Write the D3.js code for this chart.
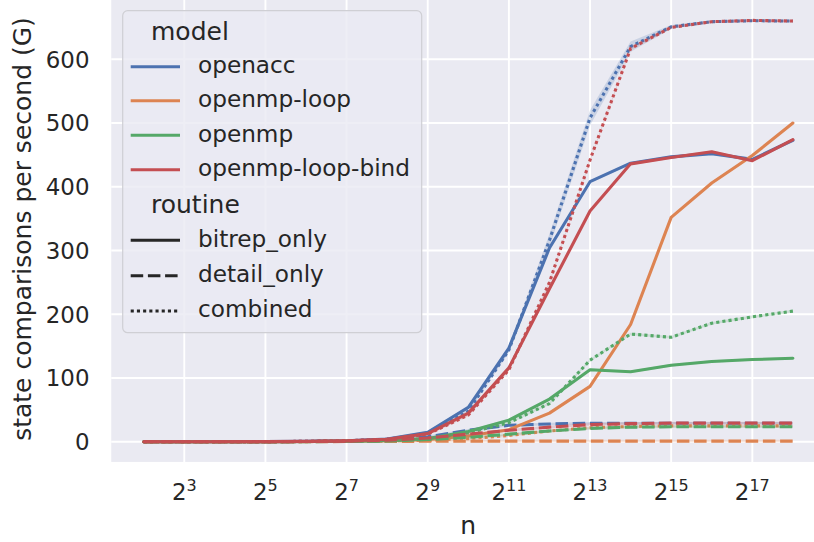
<!DOCTYPE html>
<html>
<head>
<meta charset="utf-8">
<script src="https://cdn.jsdelivr.net/npm/d3@7"></script>
<style>
  body { margin: 0; background: #fff; }
  text { font-family: "DejaVu Sans", sans-serif; fill: #262626; }
</style>
</head>
<body>
<div class="chart"></div>
<script>
// n values (2^2 .. 2^18)
var nValues = [4, 8, 16, 32, 64, 128, 256, 512, 1024, 2048, 4096, 8192, 16384, 32768, 65536, 131072, 262144];
var xTickPowers = [3, 5, 7, 9, 11, 13, 15, 17];
var yTicks = [0, 100, 200, 300, 400, 500, 600];

var models = ['openacc', 'openmp-loop', 'openmp', 'openmp-loop-bind'];
var routines = ['bitrep_only', 'detail_only', 'combined'];

// state comparisons per second (G)
var openaccBitrep = [0.02, 0.05, 0.1, 0.3, 0.7, 1.6, 4.5, 15, 54, 147, 304, 408, 437, 447, 452, 443, 473];
var openaccDetail = [0.02, 0.05, 0.1, 0.2, 0.5, 1.2, 3, 8, 18, 26, 28, 29, 29, 29, 29, 29, 29];
var openaccCombined = [0.02, 0.05, 0.1, 0.3, 0.7, 1.5, 4, 13, 48, 144, 316, 508, 620, 651, 659, 660.5, 660];

var loopBitrep = [0.01, 0.03, 0.06, 0.15, 0.4, 0.9, 1.8, 3.5, 9, 19, 45, 87, 184, 352, 406, 449, 500];
var loopDetail = [0.01, 0.02, 0.05, 0.1, 0.2, 0.4, 0.6, 0.8, 1, 1.1, 1.1, 1.1, 1.1, 1.1, 1.1, 1.1, 1.1];
var loopCombined = [0.01, 0.03, 0.06, 0.12, 0.3, 0.6, 1.2, 2.5, 5, 10, 17, 22, 24, 25, 25, 25, 25];

var ompBitrep = [0.01, 0.03, 0.06, 0.15, 0.4, 0.9, 2, 5, 16, 34, 67, 113, 110, 120, 126, 129, 131];
var ompDetail = [0.01, 0.02, 0.05, 0.1, 0.2, 0.5, 1.2, 3.5, 7, 12, 17, 21, 23, 23.5, 23.7, 23.7, 23.7];
var ompCombined = [0.01, 0.03, 0.06, 0.15, 0.4, 0.9, 2, 4.5, 14, 30, 60, 128, 169, 164, 186, 196, 205];

var bindBitrep = [0.02, 0.05, 0.1, 0.3, 0.7, 1.5, 4, 13, 45, 116, 240, 362, 436, 446, 455, 441, 474];
var bindDetail = [0.01, 0.03, 0.06, 0.15, 0.4, 1, 2.5, 6, 12, 18, 23, 27, 28.5, 29.5, 29.5, 29.5, 29.5];
var bindCombined = [0.02, 0.05, 0.1, 0.3, 0.7, 1.5, 4, 12, 42, 113, 250, 442, 617, 650, 659, 661, 660];

// half width of the confidence band where it is visible
var openaccCombinedCi = [0, 0, 0, 0, 0, 0, 0.5, 1, 2, 4, 10, 12, 8, 3, 2, 2, 2];
var defaultCi = 2;

var series = [
  {model: 0, routine: 0, values: openaccBitrep},
  {model: 0, routine: 1, values: openaccDetail},
  {model: 0, routine: 2, values: openaccCombined, ci: openaccCombinedCi},
  {model: 1, routine: 0, values: loopBitrep},
  {model: 1, routine: 1, values: loopDetail},
  {model: 1, routine: 2, values: loopCombined},
  {model: 2, routine: 0, values: ompBitrep},
  {model: 2, routine: 1, values: ompDetail},
  {model: 2, routine: 2, values: ompCombined},
  {model: 3, routine: 0, values: bindBitrep},
  {model: 3, routine: 1, values: bindDetail},
  {model: 3, routine: 2, values: bindCombined}
];

var width = 814;
var height = 542;
var colors = ['#4c72b0', '#dd8452', '#55a868', '#c44e52'];
var dashes = ['none', '12.5,4.7', '3.1,3.1'];
var lw = 3.1;

var x = d3.scaleLog().base(2).domain([4, 262144]).range([143.7, 792.9]);
var y = d3.scaleLinear().domain([0, 600]).range([441.8, 59.3]);

// plot area: 5% margin round the data
var plotLeft = x(Math.pow(2, 1.2));
var plotRight = x(Math.pow(2, 18.8));
var plotTop = y(694);
var plotBottom = y(-31.6);

var svg = d3.select('.chart')
.append('svg')
.attr('width', width)
.attr('height', height);

svg.append('rect')
.attr('x', plotLeft)
.attr('y', plotTop)
.attr('width', plotRight - plotLeft)
.attr('height', plotBottom - plotTop)
.attr('fill', '#eaeaf2');

svg.append('defs').append('clipPath').attr('id', 'plotclip')
.append('rect')
.attr('x', plotLeft).attr('y', plotTop)
.attr('width', plotRight - plotLeft).attr('height', plotBottom - plotTop);

// grid
svg.append('g').selectAll('line').data(xTickPowers).enter().append('line')
.attr('x1', function(p) { return x(Math.pow(2, p)); })
.attr('x2', function(p) { return x(Math.pow(2, p)); })
.attr('y1', plotTop).attr('y2', plotBottom)
.attr('stroke', '#fff').attr('stroke-width', 1.9);

svg.append('g').selectAll('line').data(yTicks).enter().append('line')
.attr('x1', plotLeft).attr('x2', plotRight)
.attr('y1', function(v) { return y(v); })
.attr('y2', function(v) { return y(v); })
.attr('stroke', '#fff').attr('stroke-width', 1.9);

// tick labels
svg.append('g').selectAll('text').data(yTicks).enter().append('text')
.attr('x', 89.5)
.attr('y', function(v) { return y(v) + 8.3; })
.attr('text-anchor', 'end')
.style('font-size', '22.9px')
.text(function(v) { return v; });

var xt = svg.append('g').selectAll('text').data(xTickPowers).enter().append('text')
.attr('x', function(p) { return x(Math.pow(2, p)); })
.attr('y', 500)
.attr('text-anchor', 'middle')
.style('font-size', '22.9px');
xt.append('tspan').text('2');
xt.append('tspan')
.attr('dy', -9.5)
.style('font-size', '16px')
.text(function(p) { return p; });

// axis labels
svg.append('text')
.attr('x', (plotLeft + plotRight) / 2)
.attr('y', 533.5)
.attr('text-anchor', 'middle')
.style('font-size', '25px')
.text('n');

svg.append('text')
.attr('transform', 'translate(31,229) rotate(-90)')
.attr('text-anchor', 'middle')
.style('font-size', '25px')
.text('state comparisons per second (G)');

// bands and lines
var plot = svg.append('g').attr('clip-path', 'url(#plotclip)');

var line = d3.line()
.x(function(d, i) { return x(nValues[i]); })
.y(function(d) { return y(d); });

series.forEach(function(s) {
  var area = d3.area()
  .x(function(d, i) { return x(nValues[i]); })
  .y0(function(d, i) { return y(d - (s.ci ? s.ci[i] : defaultCi)); })
  .y1(function(d, i) { return y(d + (s.ci ? s.ci[i] : defaultCi)); });

  plot.append('path')
  .attr('d', area(s.values))
  .attr('fill', colors[s.model])
  .attr('fill-opacity', 0.2);

  plot.append('path')
  .attr('d', line(s.values))
  .attr('fill', 'none')
  .attr('stroke', colors[s.model])
  .attr('stroke-width', lw)
  .attr('stroke-dasharray', dashes[s.routine])
  .attr('stroke-linecap', s.routine === 0 ? 'round' : 'butt')
  .attr('stroke-linejoin', 'round');
});

// legend
var legend = svg.append('g');
legend.append('rect')
.attr('x', 122.7).attr('y', 10.7)
.attr('width', 299).attr('height', 322)
.attr('rx', 5)
.attr('fill', '#eaeaf2').attr('fill-opacity', 0.8)
.attr('stroke', '#cfcfd4').attr('stroke-width', 1.2);

legend.append('text').attr('x', 151).attr('y', 39.5).style('font-size', '25px').text('model');
legend.append('text').attr('x', 151).attr('y', 213.3).style('font-size', '25px').text('routine');

var modelRows = [66.7, 100.8, 135.2, 169.7];
var routineRows = [240.3, 275.7, 311];

models.forEach(function(m, i) {
  legend.append('line')
  .attr('x1', 130.7).attr('x2', 180)
  .attr('y1', modelRows[i]).attr('y2', modelRows[i])
  .attr('stroke', colors[i]).attr('stroke-width', lw);
  legend.append('text')
  .attr('x', 198).attr('y', modelRows[i] + 6.4)
  .style('font-size', '23.2px')
  .text(m);
});

routines.forEach(function(r, i) {
  legend.append('line')
  .attr('x1', 130.7).attr('x2', 180)
  .attr('y1', routineRows[i]).attr('y2', routineRows[i])
  .attr('stroke', '#262626').attr('stroke-width', lw)
  .attr('stroke-dasharray', dashes[i]);
  legend.append('text')
  .attr('x', 198).attr('y', routineRows[i] + 6.4)
  .style('font-size', '23.2px')
  .text(r);
});
</script>
</body>
</html>
